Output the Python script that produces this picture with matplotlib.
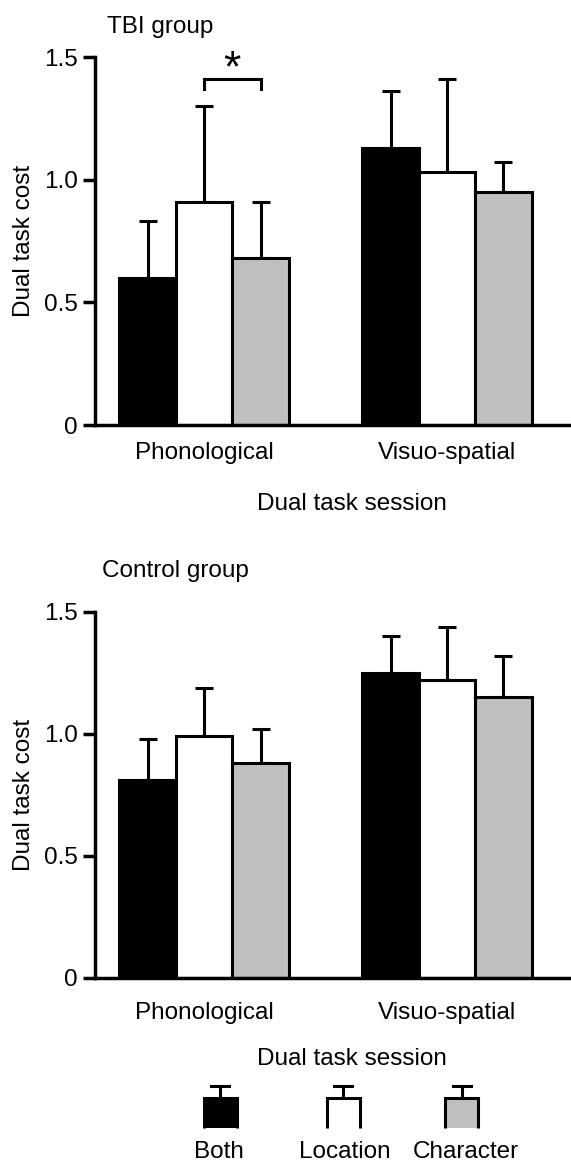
import matplotlib
matplotlib.use("Agg")
import numpy as np
import matplotlib.pyplot as plt
from matplotlib.patches import Rectangle

plt.rcParams['font.family'] = ['Liberation Sans', 'DejaVu Sans']
FS = 17.5
LW = 2.2

W, H = 571, 1162

sessions = ["Phonological", "Visuo-spatial"]
conditions = ["Both", "Location", "Character"]
cond_colors = ["black", "white", "#c0c0c0"]
ytick_vals = [0, 0.5, 1.0, 1.5]
ytick_text = ["0", "0.5", "1.0", "1.5"]

# TBI group: mean dual task cost and SD per condition (Both, Location, Character)
tbi_phon_mean = [0.60, 0.91, 0.68]
tbi_phon_sd = [0.23, 0.39, 0.23]
tbi_visuo_mean = [1.13, 1.03, 0.95]
tbi_visuo_sd = [0.23, 0.38, 0.12]

# Control group
ctrl_phon_mean = [0.81, 0.99, 0.88]
ctrl_phon_sd = [0.17, 0.20, 0.14]
ctrl_visuo_mean = [1.25, 1.22, 1.15]
ctrl_visuo_sd = [0.15, 0.22, 0.17]

# significant pairwise difference in the TBI group (Location vs Character, phonological)
sig_pair = (1, 2)
sig_session = 0
sig_level = 1.41

fig = plt.figure(figsize=(W / 100, H / 100), dpi=100)


def px_text(x, y, s, **kw):
    fig.text(x / W, 1 - y / H, s, fontsize=FS, **kw)


def draw_panel(ax, phon_mean, phon_sd, visuo_mean, visuo_sd, tick_pad):
    groups = np.arange(len(sessions))
    width = 0.2325
    offsets = [-width, 0.0, width]
    for j, cond in enumerate(conditions):
        heights = [phon_mean[j], visuo_mean[j]]
        sds = [phon_sd[j], visuo_sd[j]]
        xs = groups + offsets[j]
        ax.errorbar(xs, heights, yerr=[[0, 0], sds], fmt='none', ecolor='black',
                    elinewidth=LW, capsize=6.8, capthick=LW, zorder=1)
        ax.bar(xs, heights, width, color=cond_colors[j], edgecolor='black',
               linewidth=LW, zorder=2)
    ax.set_xlim(-0.4486, 1.5103)
    ax.set_ylim(0, 1.5)
    ax.set_yticks(ytick_vals)
    ax.set_yticklabels(ytick_text)
    ax.set_xticks(groups)
    ax.set_xticklabels(sessions)
    for side in ("top", "right"):
        ax.spines[side].set_visible(False)
    for side in ("left", "bottom"):
        ax.spines[side].set_linewidth(LW + 0.3)
    ax.tick_params(axis='y', direction='out', length=8.6, width=LW + 0.3,
                   pad=3.6, labelsize=FS)
    ax.tick_params(axis='x', length=0, pad=tick_pad, labelsize=FS)
    ax.text(-0.149, 0.5, "Dual task cost", rotation=90, ha='center', va='center',
            fontsize=FS, transform=ax.transAxes)
    return offsets, width


# top panel: TBI group
ax1 = fig.add_axes([95 / W, 1 - 425 / H, (W - 95) / W, 368 / H])
offs, wid = draw_panel(ax1, tbi_phon_mean, tbi_phon_sd, tbi_visuo_mean, tbi_visuo_sd, 12.5)
xa = sig_session + offs[sig_pair[0]]
xb = sig_session + offs[sig_pair[1]]
ax1.plot([xa, xa, xb, xb], [sig_level - 0.04, sig_level, sig_level, sig_level - 0.04],
         color='black', lw=LW, solid_joinstyle='miter', zorder=3)
ax1.text((xa + xb) / 2, sig_level - 0.045, "*", ha='center', va='bottom',
         fontsize=32, zorder=3, clip_on=False)

# bottom panel: Control group
ax2 = fig.add_axes([95 / W, 1 - 978 / H, (W - 95) / W, 366 / H])
draw_panel(ax2, ctrl_phon_mean, ctrl_phon_sd, ctrl_visuo_mean, ctrl_visuo_sd, 17)

# panel titles and axis titles
px_text(160, 33, "TBI group", ha='center', va='baseline')
px_text(175, 577, "Control group", ha='center', va='baseline')
px_text(352, 510, "Dual task session", ha='center', va='baseline')
px_text(352, 1065, "Dual task session", ha='center', va='baseline')

# legend keys
lax = fig.add_axes([0, 0, 1, 1], zorder=-1)
lax.set_xlim(0, W)
lax.set_ylim(H, 0)
lax.axis('off')
key_x = [220, 343, 461.5]
label_x = [219, 345, 465.5]
box_w, box_top, box_bot, cap_y, cap_w = 33, 1098, 1128, 1086, 18
for cx, lx, cond, col in zip(key_x, label_x, conditions, cond_colors):
    lax.add_patch(Rectangle((cx - box_w / 2, box_top), box_w, box_bot - box_top,
                            facecolor=col, edgecolor='none'))
    lax.plot([cx - box_w / 2, cx - box_w / 2, cx + box_w / 2, cx + box_w / 2],
             [box_bot, box_top, box_top, box_bot], color='black', lw=LW,
             solid_joinstyle='miter', solid_capstyle='butt')
    lax.plot([cx, cx], [box_top, cap_y], color='black', lw=LW)
    lax.plot([cx - cap_w / 2, cx + cap_w / 2], [cap_y, cap_y], color='black', lw=LW)
    px_text(lx, 1158, cond, ha='center', va='baseline')

fig.savefig("out.png", dpi=100)
